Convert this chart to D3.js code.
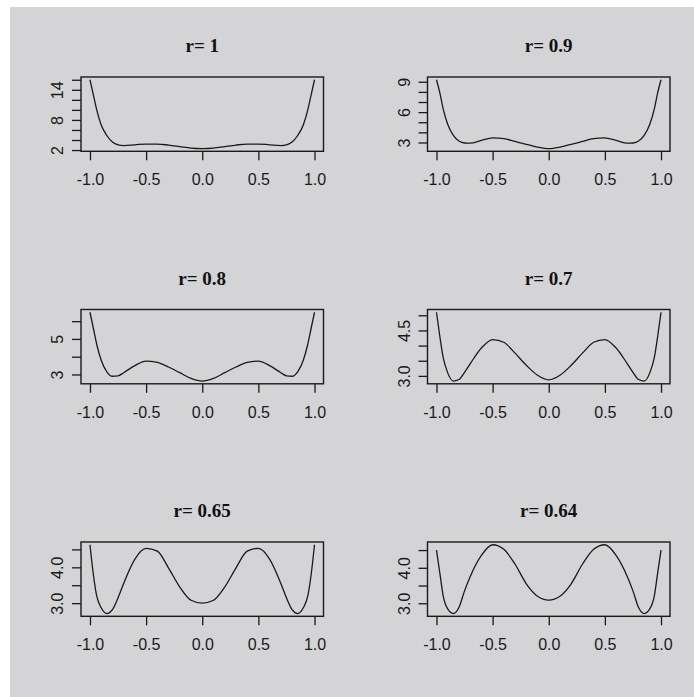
<!DOCTYPE html>
<html>
<head>
<meta charset="utf-8">
<script src="https://cdn.jsdelivr.net/npm/d3@7"></script>
<style>
  body { margin: 0; background: #fff; }
  svg { display: block; }
</style>
</head>
<body>
<svg id="chart" width="694" height="697"></svg>
<script>
// x grid shared by all six panels
const xs = [-1, -0.97, -0.94, -0.9, -0.85, -0.8, -0.75, -0.7, -0.6, -0.5, -0.4, -0.3, -0.2, -0.1, 0,
            0.1, 0.2, 0.3, 0.4, 0.5, 0.6, 0.7, 0.75, 0.8, 0.85, 0.9, 0.94, 0.97, 1];

// curve values
const yR100 = [16.0, 13.0, 10.0, 7.0, 4.9, 3.6, 3.05, 2.9, 3.05, 3.2, 3.2, 3.0, 2.7, 2.4, 2.3,
               2.4, 2.7, 3.0, 3.2, 3.2, 3.05, 2.9, 3.05, 3.6, 4.9, 7.0, 10.0, 13.0, 16.0];
const yR090 = [9.2, 7.9, 6.3, 4.8, 3.7, 3.15, 2.95, 2.93, 3.2, 3.45, 3.38, 3.1, 2.82, 2.55, 2.4,
               2.55, 2.82, 3.1, 3.38, 3.45, 3.2, 2.93, 2.95, 3.15, 3.7, 4.8, 6.3, 7.9, 9.2];
const yR080 = [6.5, 5.6, 4.7, 3.8, 3.15, 2.9, 2.92, 3.1, 3.5, 3.75, 3.68, 3.42, 3.1, 2.78, 2.63,
               2.78, 3.1, 3.42, 3.68, 3.75, 3.5, 3.1, 2.92, 2.9, 3.15, 3.8, 4.7, 5.6, 6.5];
const yR070 = [5.1, 4.3, 3.6, 3.1, 2.83, 2.88, 3.12, 3.4, 3.92, 4.2, 4.11, 3.75, 3.35, 3.02, 2.87,
               3.02, 3.35, 3.75, 4.11, 4.2, 3.92, 3.4, 3.12, 2.88, 2.83, 3.1, 3.6, 4.3, 5.1];
const yR065 = [4.63, 3.8, 3.2, 2.87, 2.71, 2.82, 3.15, 3.55, 4.23, 4.53, 4.45, 3.98, 3.45, 3.08, 3.0,
               3.08, 3.45, 3.98, 4.45, 4.53, 4.23, 3.55, 3.15, 2.82, 2.71, 2.87, 3.2, 3.8, 4.63];
const yR064 = [4.5, 3.85, 3.2, 2.84, 2.71, 2.88, 3.35, 3.75, 4.35, 4.65, 4.52, 4.1, 3.55, 3.2, 3.09,
               3.2, 3.55, 4.1, 4.52, 4.65, 4.35, 3.75, 3.35, 2.88, 2.71, 2.84, 3.2, 3.85, 4.5];

const titles = ["r= 1", "r= 0.9", "r= 0.8", "r= 0.7", "r= 0.65", "r= 0.64"];

// tick labels
const xTicks = [-1, -0.5, 0, 0.5, 1];
const xTickLabels = ["-1.0", "-0.5", "0.0", "0.5", "1.0"];
const yTicks = [
  [2, 4, 6, 8, 10, 12, 14, 16],
  [3, 4, 5, 6, 7, 8, 9],
  [3, 4, 5, 6],
  [3.0, 3.5, 4.0, 4.5, 5.0],
  [3.0, 3.5, 4.0, 4.5],
  [3.0, 3.5, 4.0, 4.5]
];
const yLabelled = [[2, 8, 14], [3, 6, 9], [3, 5], [3.0, 4.5], [3.0, 4.0], [3.0, 4.0]];
const yLabelText = [["2", "8", "14"], ["3", "6", "9"], ["3", "5"], ["3.0", "4.5"], ["3.0", "4.0"], ["3.0", "4.0"]];

const series = [yR100, yR090, yR080, yR070, yR065, yR064];

// layout
const colLeft = [81, 427.5];
const rowTop = [77, 309.5, 542];
const boxW = 242.5, boxH = 74.3;
const tickLen = 9;

const svg = d3.select("#chart");

svg.append("rect")
  .attr("x", 10).attr("y", 7)
  .attr("width", 684).attr("height", 690)
  .attr("fill", "#d4d3d6");

series.forEach((ys, i) => {
  const left = colLeft[i % 2];
  const top = rowTop[Math.floor(i / 2)];

  // R style 4% range extension
  const ext = d3.extent(ys);
  const pad = (ext[1] - ext[0]) * 0.04;
  const x = d3.scaleLinear().domain([-1.08, 1.08]).range([left, left + boxW]);
  const y = d3.scaleLinear().domain([ext[0] - pad, ext[1] + pad]).range([top + boxH, top]);

  const g = svg.append("g");

  // curve
  const line = d3.line()
    .x((d, k) => x(xs[k]))
    .y(d => y(d))
    .curve(d3.curveMonotoneX);
  g.append("path")
    .datum(ys)
    .attr("d", line)
    .attr("fill", "none")
    .attr("stroke", "#1a1a1a")
    .attr("stroke-width", 1.3);

  // x axis
  const xa = g.append("g")
    .attr("transform", `translate(0,${top + boxH})`)
    .call(d3.axisBottom(x)
      .tickValues(xTicks)
      .tickSize(tickLen)
      .tickFormat((d, k) => xTickLabels[k]));
  xa.select(".domain").remove();
  xa.selectAll("line").attr("stroke", "#1a1a1a").attr("stroke-width", 1.3);
  xa.selectAll("text")
    .attr("y", 34).attr("dy", null)
    .attr("fill", "#1a1a1a")
    .style("font-family", "'Liberation Sans', Arial, sans-serif")
    .style("font-size", "16px");

  // y axis
  const ya = g.append("g")
    .attr("transform", `translate(${left},0)`)
    .call(d3.axisLeft(y)
      .tickValues(yTicks[i])
      .tickSize(tickLen)
      .tickFormat(d => {
        const k = yLabelled[i].indexOf(d);
        return k < 0 ? "" : yLabelText[i][k];
      }));
  ya.select(".domain").remove();
  ya.selectAll("line").attr("stroke", "#1a1a1a").attr("stroke-width", 1.3);
  ya.selectAll("text")
    .attr("x", 0).attr("dy", null)
    .attr("text-anchor", "middle")
    .attr("transform", "translate(-18,0) rotate(-90)")
    .attr("fill", "#1a1a1a")
    .style("font-family", "'Liberation Sans', Arial, sans-serif")
    .style("font-size", "16px");

  // box
  g.append("rect")
    .attr("x", left).attr("y", top)
    .attr("width", boxW).attr("height", boxH)
    .attr("fill", "none")
    .attr("stroke", "#1a1a1a")
    .attr("stroke-width", 1.4);

  // title
  g.append("text")
    .attr("x", left + boxW / 2)
    .attr("y", top - 25)
    .attr("text-anchor", "middle")
    .attr("fill", "#111")
    .style("font-family", "'Liberation Serif', 'Times New Roman', serif")
    .style("font-weight", "bold")
    .style("font-size", "19px")
    .text(titles[i]);
});
</script>
</body>
</html>
